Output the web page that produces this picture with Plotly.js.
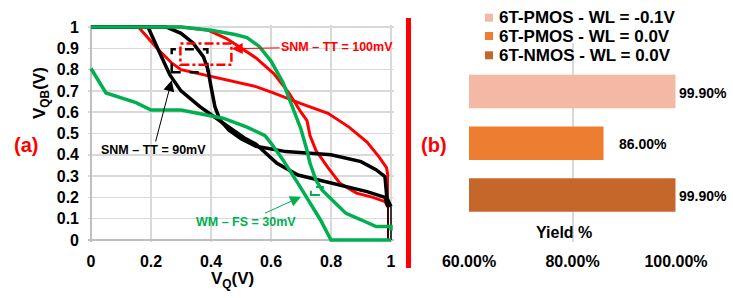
<!DOCTYPE html>
<html><head><meta charset="utf-8">
<script src="https://cdn.plot.ly/plotly-3.0.1.min.js"></script>
<style>html,body{margin:0;padding:0;background:#fff}#chart{width:733px;height:298px}</style>
</head><body><div id="chart"></div>
<script>
// ---------- (a) butterfly curves ----------
const redA_x = [0, 0.158, 0.22, 0.27, 0.30, 0.36, 0.47, 0.55, 0.61, 0.70, 0.79, 0.86, 0.92, 0.96, 0.985, 0.99, 0.99];
const redA_y = [1, 1, 0.90, 0.83, 0.80, 0.78, 0.745, 0.72, 0.69, 0.64, 0.595, 0.53, 0.46, 0.39, 0.34, 0.30, 0];
const redB_x = [0, 0.30, 0.39, 0.45, 0.48, 0.55, 0.61, 0.66, 0.70, 0.72, 0.73, 0.75, 0.79, 0.83, 0.885, 0.94, 0.98, 0.99, 0.99];
const redB_y = [1, 1, 0.985, 0.947, 0.92, 0.855, 0.78, 0.69, 0.60, 0.56, 0.49, 0.42, 0.34, 0.266, 0.22, 0.20, 0.18, 0.155, 0];
const blackA_x = [0, 0.19, 0.23, 0.263, 0.30, 0.363, 0.441, 0.51, 0.55, 0.62, 0.69, 0.76, 0.85, 0.92, 0.98, 0.99, 0.99];
const blackA_y = [1, 1, 0.876, 0.775, 0.70, 0.626, 0.548, 0.48, 0.45, 0.36, 0.305, 0.28, 0.25, 0.227, 0.20, 0.156, 0];
const blackB_x = [0, 0.25, 0.30, 0.34, 0.375, 0.39, 0.40, 0.413, 0.43, 0.46, 0.50, 0.55, 0.65, 0.80, 0.90, 0.95, 0.98, 0.986, 1.0, 1.0];
const blackB_y = [1, 1, 0.97, 0.925, 0.86, 0.80, 0.72, 0.626, 0.563, 0.516, 0.475, 0.44, 0.415, 0.40, 0.368, 0.33, 0.297, 0.20, 0.156, 0];
const greenA_x = [0, 0.30, 0.40, 0.48, 0.52, 0.56, 0.60, 0.64, 0.67, 0.70, 0.72, 0.73, 0.75, 0.77, 0.81, 0.85, 0.90, 0.95, 1.0, 1.0];
const greenA_y = [1, 1, 0.985, 0.965, 0.95, 0.91, 0.84, 0.74, 0.63, 0.52, 0.42, 0.36, 0.28, 0.235, 0.18, 0.125, 0.095, 0.063, 0.063, 0.045];
const greenB_x = [0, 0.05, 0.15, 0.20, 0.30, 0.44, 0.52, 0.58, 0.60, 0.64, 0.69, 0.73, 0.765, 0.80, 1.0];
const greenB_y = [0.805, 0.69, 0.645, 0.61, 0.61, 0.572, 0.53, 0.49, 0.455, 0.376, 0.266, 0.172, 0.094, 0, 0];

const vqTicks = [0, 0.2, 0.4, 0.6, 0.8, 1];
const vqTickText = ['0', '0.2', '0.4', '0.6', '0.8', '1'];
const vqbTicks = [0, 0.1, 0.2, 0.3, 0.4, 0.5, 0.6, 0.7, 0.8, 0.9, 1];
const vqbTickText = ['0', '0.1', '0.2', '0.3', '0.4', '0.5', '0.6', '0.7', '0.8', '0.9', '1'];

// margin boxes [x0, x1, y0, y1] and callouts
const boxSnmBlack = [0.269, 0.388, 0.788, 0.895];
const boxSnmRed = [0.298, 0.468, 0.823, 0.922];
const boxWmGreen = [0.733, 0.773, 0.211, 0.249];
const calloutTexts = ['SNM – TT = 100mV', 'SNM – TT = 90mV', 'WM – FS = 30mV'];
const calloutTip_x = [0.469, 0.269, 0.700];
const calloutTip_y = [0.898, 0.750, 0.203];
const calloutText_x = [0.82, 0.208, 0.518];
const calloutText_y = [0.907, 0.4225, 0.086];

// ---------- (b) yield ----------
const yieldNames = ['6T-PMOS - WL = -0.1V', '6T-PMOS - WL = 0.0V', '6T-NMOS - WL = 0.0V'];
const yieldValues = [99.9, 86.0, 99.9];
const yieldLabels = ['99.90%', '86.00%', '99.90%'];
const yieldTicks = [60, 80, 100];
const yieldTickText = ['60.00%', '80.00%', '100.00%'];

// ---------- styling ----------
const W = 733, H = 298;
const px = v => v / W, py = v => 1 - v / H;
const RED = '#FF0000', BLACK = '#000000', GREEN = '#00B050';
const yieldColors = ['#F4B9A4', '#ED7D31', '#C5672B'];
const GRID = '#D9D9D9';
const BOLD = {family: 'Liberation Sans, Arial, sans-serif', weight: 'bold', color: '#000'};

function curve(x, y, color, w) {
  return {type: 'scatter', mode: 'lines', x: x, y: y, xaxis: 'x', yaxis: 'y',
    line: {color: color, width: w}, hoverinfo: 'skip', showlegend: false};
}
// the final vertical drop at the right edge of each butterfly curve is drawn thin, as in the source
function curveWithTail(x, y, color, w, tw) {
  const n = x.length;
  return [curve(x.slice(0, n - 1), y.slice(0, n - 1), color, w),
          curve(x.slice(n - 2), y.slice(n - 2), color, tw)];
}
const traces = [].concat(
  curveWithTail(redA_x, redA_y, RED, 3, 2), curveWithTail(redB_x, redB_y, RED, 3, 2),
  curveWithTail(blackA_x, blackA_y, BLACK, 3.5, 1.5), curveWithTail(blackB_x, blackB_y, BLACK, 3.5, 1.5),
  [curve(greenA_x, greenA_y, GREEN, 3.5), curve(greenB_x, greenB_y, GREEN, 3.5)]
);
yieldNames.forEach((n, i) => traces.push({
  type: 'bar', orientation: 'h', name: n, x: [yieldValues[i]], y: [n],
  xaxis: 'x2', yaxis: 'y2', width: 0.648, marker: {color: yieldColors[i]},
  hoverinfo: 'skip', showlegend: false
}));

const calloutColors = [RED, BLACK, GREEN];
const annotations = [];
calloutTexts.forEach((t, i) => annotations.push({
  xref: 'x', yref: 'y', axref: 'x', ayref: 'y',
  x: calloutTip_x[i], y: calloutTip_y[i], ax: calloutText_x[i], ay: calloutText_y[i],
  xanchor: 'center', yanchor: 'middle',
  text: t, showarrow: true, arrowhead: 2, arrowsize: 2.2, arrowwidth: 1,
  arrowcolor: calloutColors[i], standoff: 0, startstandoff: 0,
  font: Object.assign({}, BOLD, {size: 12.5, color: calloutColors[i]})
}));
const labelShift = [2, 13.5, 2];
yieldNames.forEach((n, i) => annotations.push({
  xref: 'x2', yref: 'y2', x: yieldValues[i], y: n, xanchor: 'left', yanchor: 'middle',
  xshift: labelShift[i], yshift: -1, showarrow: false, text: yieldLabels[i],
  font: Object.assign({}, BOLD, {size: 14})
}));
const legendRows = [17.7, 36, 55.3];
const shapes = [];
yieldNames.forEach((n, i) => {
  annotations.push({xref: 'paper', yref: 'paper', x: px(497), y: py(legendRows[i]),
    xanchor: 'left', yanchor: 'middle', showarrow: false, text: n,
    font: Object.assign({}, BOLD, {size: 17})});
  shapes.push({type: 'rect', xref: 'paper', yref: 'paper', x0: px(485), x1: px(493),
    y0: py(legendRows[i] - 4), y1: py(legendRows[i] + 4), line: {width: 0}, fillcolor: yieldColors[i]});
});
function label(x, y, text, font, angle) {
  return {xref: 'paper', yref: 'paper', x: px(x), y: py(y), xanchor: 'center', yanchor: 'middle',
    showarrow: false, text: text, font: font, textangle: angle || 0};
}
annotations.push(
  label(41, 93, 'V<sub>QB</sub>(V)', Object.assign({}, BOLD, {size: 17}), -90),
  label(232, 280, 'V<sub>Q</sub>(V)', Object.assign({}, BOLD, {size: 17})),
  label(563.5, 232, 'Yield %', Object.assign({}, BOLD, {size: 16})),
  label(26, 145, '(a)', {family: 'Liberation Sans, Arial', size: 20, weight: 'bold', color: RED}),
  label(434, 145, '(b)', {family: 'Liberation Sans, Arial', size: 20, weight: 'bold', color: RED})
);

function boxShape(b, color, dash, width) {
  return {type: 'rect', xref: 'x', yref: 'y', x0: b[0], x1: b[1], y0: b[2], y1: b[3],
    line: {color: color, dash: dash, width: width}, fillcolor: 'rgba(0,0,0,0)', layer: 'above'};
}
shapes.push(boxShape(boxSnmBlack, BLACK, 'dash', 2.5));
shapes.push(boxShape(boxSnmRed, RED, 'dashdot', 2.5));
shapes.push(boxShape(boxWmGreen, GREEN, 'dash', 2));
shapes.push({type: 'line', xref: 'paper', yref: 'paper', x0: px(408.5), x1: px(408.5),
  y0: py(18), y1: py(268), line: {color: RED, width: 5}});

const tickFont = Object.assign({}, BOLD, {size: 16});
const layout = {
  width: W, height: H, margin: {l: 0, r: 0, t: 0, b: 0},
  paper_bgcolor: '#fff', plot_bgcolor: 'rgba(0,0,0,0)', showlegend: false,
  barmode: 'overlay',
  xaxis: {domain: [px(88), px(394)], range: [-0.01, 1.01], tickvals: vqTicks, ticktext: vqTickText,
    showgrid: true, gridcolor: GRID, gridwidth: 1.5, zeroline: true, zerolinecolor: '#BFBFBF',
    zerolinewidth: 2, showline: false, ticks: '', tickfont: tickFont, ticklabelstandoff: 8, anchor: 'y'},
  yaxis: {domain: [py(242.13), py(24.87)], range: [-0.01, 1.01], tickvals: vqbTicks, ticktext: vqbTickText,
    showgrid: true, gridcolor: GRID, gridwidth: 1.5, zeroline: true, zerolinecolor: '#BFBFBF',
    zerolinewidth: 2, showline: false, ticks: '', tickfont: tickFont, ticklabelstandoff: 8, anchor: 'x'},
  xaxis2: {domain: [px(469), px(676)], range: [60, 100], tickvals: yieldTicks, ticktext: yieldTickText,
    showgrid: true, gridcolor: GRID, gridwidth: 2, zeroline: false, showline: false, ticks: '',
    tickfont: tickFont, ticklabelstandoff: 8, anchor: 'y2'},
  yaxis2: {domain: [py(242), py(43)], type: 'category', categoryorder: 'array',
    categoryarray: yieldNames.slice().reverse(), range: [-0.909, 2.94],
    showticklabels: false, showgrid: false, zeroline: false, showline: false, ticks: '', anchor: 'x2'},
  annotations: annotations, shapes: shapes
};
Plotly.newPlot('chart', traces, layout, {staticPlot: true, displayModeBar: false});
</script></body></html>
